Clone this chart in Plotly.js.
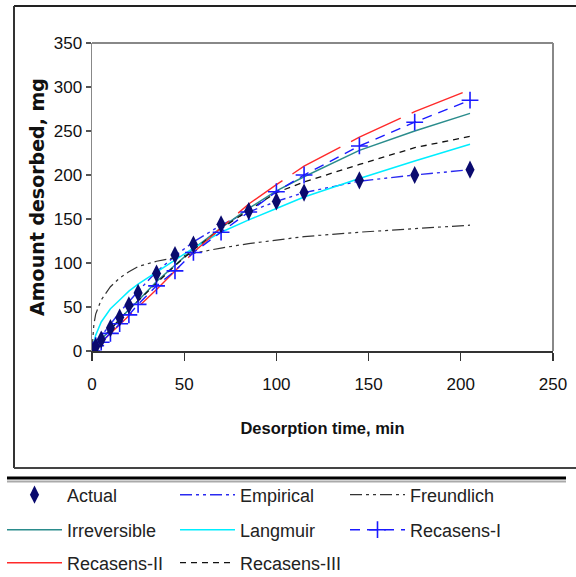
<!DOCTYPE html>
<html>
<head>
<meta charset="utf-8">
<script src="https://cdn.plot.ly/plotly-3.0.1.min.js"></script>
<style>html,body{margin:0;padding:0;background:#fff;}#chart{width:576px;height:577px;}</style>
</head>
<body>
<div id="chart"></div>
<script>
// Observed data times (min)
const tData = [0, 2, 5, 10, 15, 20, 25, 35, 45, 55, 70, 85, 100, 115, 145, 175, 205];
// Model curve times (min)
const tModel = [0, 1, 2, 5, 10, 15, 20, 25, 35, 45, 55, 70, 85, 100, 115, 145, 175, 205];

const actual      = [0, 5, 13, 26, 38, 52, 66, 88, 109, 121, 144, 159, 170, 180, 194, 200, 206];
const empirical   = [0, 3, 7, 17, 31, 44, 56, 68, 90, 108, 124, 143, 158, 170, 180, 193, 200, 206];
const freundlich  = [0, 30, 42, 58, 73, 83, 90, 96, 102, 106, 111, 117, 122, 126, 130, 135, 139, 143];
const irreversible= [0, 3, 6, 13, 25, 36, 47, 57, 79, 98, 116, 140, 162, 182, 198, 228, 250, 270];
const langmuir    = [0, 10, 18, 33, 48, 58, 68, 76, 90, 104, 117, 135, 149, 162, 175, 196, 216, 235];
const recasensI   = [0, 6, 10, 20, 31, 41, 53, 74, 91, 112, 135, 158, 181, 200, 233, 260, 285];
const recasensII  = [0, 2, 4, 9, 19, 29, 39, 49, 70, 91, 112, 140, 167, 189, 210, 243, 272, 297];
const recasensIII = [0, 3, 6, 13, 25, 36, 47, 57, 78, 97, 115, 139, 160, 180, 192, 212, 231, 244];

const names = ["Actual", "Empirical", "Freundlich", "Irreversible", "Langmuir", "Recasens-I", "Recasens-II", "Recasens-III"];

const traces = [
  {x: tModel, y: empirical, name: names[1], mode: "lines", legend: "legend2",
   line: {color: "#2a2af0", width: 1.4, dash: "12px,4px,3px,4px,3px,4px"}},
  {x: tModel, y: freundlich, name: names[2], mode: "lines", legend: "legend3",
   line: {color: "#333333", width: 1.2, dash: "12px,4px,3px,4px,3px,4px"}},
  {x: tModel, y: irreversible, name: names[3], mode: "lines", legend: "legend4",
   line: {color: "#2a8c8c", width: 1.5}},
  {x: tModel, y: langmuir, name: names[4], mode: "lines", legend: "legend5",
   line: {color: "#00eeff", width: 1.5}},
  {x: tModel, y: recasensIII, name: names[7], mode: "lines", legend: "legend8",
   line: {color: "#111111", width: 1.3, dash: "6px,5px"}},
  {x: tModel, y: recasensII, name: names[6], mode: "lines", legend: "legend7",
   line: {color: "#ff2a2a", width: 1.4, dash: "55px,12px"}},
  {x: tData, y: recasensI, name: names[5], mode: "lines+markers", legend: "legend6",
   line: {color: "#1a1aff", width: 1.4, dash: "10px,7px"},
   marker: {symbol: "cross-thin", size: 12, line: {color: "#1a1aff", width: 1.6}}},
  {x: tData, y: actual, name: names[0], mode: "markers", legend: "legend",
   marker: {symbol: "diamond-tall", size: 13, color: "#0a0a6e", line: {width: 0}}}
];

function px2x(px) { return (px - 92) / 461; }
function py2y(py) { return (351 - py) / 308; }

const legendBase = {
  orientation: "h", xanchor: "left", yanchor: "middle", itemwidth: 55,
  font: {family: "Liberation Sans, Arial, sans-serif", size: 18, color: "#222"},
  bgcolor: "rgba(0,0,0,0)", borderwidth: 0
};
// legend item positions: [left px, row centre px]
const colX = [2, 175, 345];
const rowY = [495, 530, 563];
function leg(col, row) {
  return Object.assign({}, legendBase, {x: px2x(colX[col]), y: py2y(rowY[row])});
}

const layout = {
  width: 576, height: 577,
  margin: {l: 92, r: 23, t: 43, b: 226, autoexpand: false},
  paper_bgcolor: "#ffffff", plot_bgcolor: "#ffffff",
  showlegend: true,
  legend: leg(0, 0), legend2: leg(1, 0), legend3: leg(2, 0),
  legend4: leg(0, 1), legend5: leg(1, 1), legend6: leg(2, 1),
  legend7: leg(0, 2), legend8: leg(1, 2),
  xaxis: {
    range: [0, 250], dtick: 50, tick0: 0, showgrid: false, zeroline: false,
    showline: true, linecolor: "#333", linewidth: 1.5,
    ticks: "outside", ticklen: 8, tickcolor: "#333", tickwidth: 1.2, ticklabelstandoff: 9,
    tickfont: {family: "Liberation Sans, Arial, sans-serif", size: 17, color: "#111"},
    title: {text: "Desorption time, min", standoff: 29,
      font: {family: "Liberation Sans, Arial, sans-serif", size: 16.5, color: "#111", weight: "bold"}}
  },
  yaxis: {
    range: [0, 350], dtick: 50, tick0: 0, showgrid: false, zeroline: false,
    showline: true, linecolor: "#888", linewidth: 1.5,
    ticks: "outside", ticklen: 5, tickcolor: "#555", tickwidth: 1.2,
    tickfont: {family: "Liberation Sans, Arial, sans-serif", size: 17, color: "#111"},
    title: {text: "Amount desorbed, mg", standoff: 4,
      font: {family: "DejaVu Sans, sans-serif", size: 19, color: "#111", weight: "bold"}}
  },
  shapes: [
    {type: "line", xref: "paper", yref: "paper", x0: 0, x1: 1, y0: 1, y1: 1, line: {color: "#888", width: 2}},
    {type: "line", xref: "paper", yref: "paper", x0: 1, x1: 1, y0: 0, y1: 1, line: {color: "#888", width: 2}},
    {type: "line", xref: "paper", yref: "paper", x0: px2x(14), x1: px2x(580), y0: py2y(6), y1: py2y(6), line: {color: "#222", width: 2}},
    {type: "line", xref: "paper", yref: "paper", x0: px2x(14), x1: px2x(14), y0: py2y(6), y1: py2y(468), line: {color: "#333", width: 2}},
    {type: "line", xref: "paper", yref: "paper", x0: px2x(14), x1: px2x(580), y0: py2y(468), y1: py2y(468), line: {color: "#444", width: 2}},
    {type: "line", xref: "paper", yref: "paper", x0: px2x(7), x1: px2x(566), y0: py2y(478), y1: py2y(478), line: {color: "#000", width: 3}},
    {type: "line", xref: "paper", yref: "paper", x0: px2x(7), x1: px2x(566), y0: py2y(481.5), y1: py2y(481.5), line: {color: "#aaa", width: 2}}
  ]
};

Plotly.newPlot("chart", traces, layout, {displayModeBar: false, staticPlot: true});
</script>
</body>
</html>
